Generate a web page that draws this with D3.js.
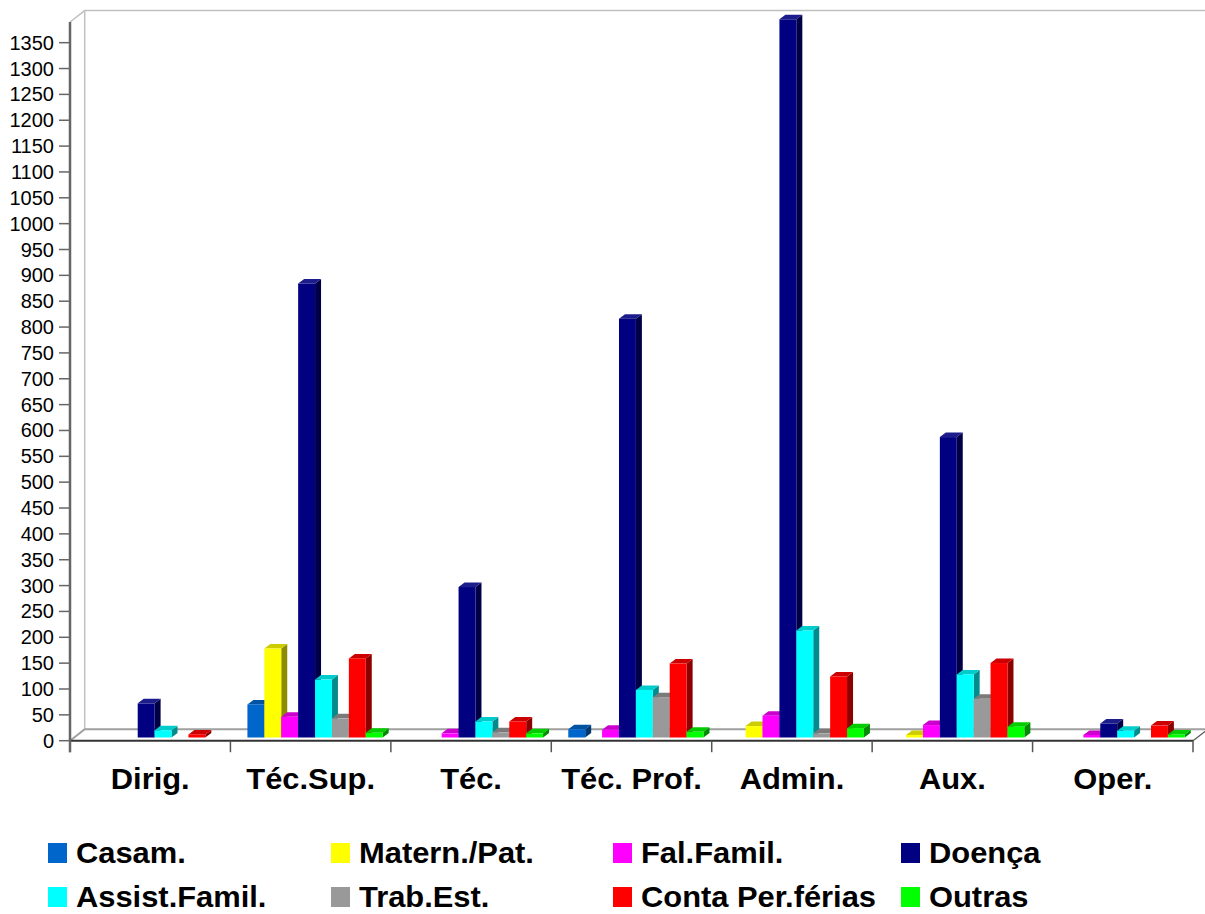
<!DOCTYPE html>
<html>
<head>
<meta charset="utf-8">
<script src="https://cdn.jsdelivr.net/npm/d3@7/dist/d3.min.js"></script>
<style>
  html, body { margin: 0; padding: 0; background: #fff; }
  svg { display: block; font-family: "Liberation Sans", Arial, sans-serif; }
</style>
</head>
<body>
<svg id="chart" width="1205" height="914"></svg>
<script>
// Absence categories by staff group
const categories = ["Dirig.", "Téc.Sup.", "Téc.", "Téc. Prof.", "Admin.", "Aux.", "Oper."];
const seriesNames = ["Casam.", "Matern./Pat.", "Fal.Famil.", "Doença", "Assist.Famil.", "Trab.Est.", "Conta Per.férias", "Outras"];
const seriesColors = ["#0066cc", "#ffff00", "#ff00ff", "#000080", "#00ffff", "#999999", "#ff0000", "#00ff00"];

const casam   = [0, 64, 0, 16, 0, 0, 0];
const matern  = [0, 172, 0, 0, 22, 5, 0];
const falFam  = [0, 40, 8, 15, 42, 24, 5];
const doenca  = [66, 878, 291, 810, 1389, 581, 27];
const assist  = [14, 112, 31, 92, 207, 122, 13];
const trabEst = [0, 37, 10, 78, 8, 75, 0];
const conta   = [6, 153, 31, 143, 118, 144, 23];
const outras  = [0, 9, 8, 11, 18, 21, 6];

const seriesValues = [casam, matern, falFam, doenca, assist, trabEst, conta, outras];
const yTicks = d3.range(0, 1351, 50);

const svg = d3.select("#chart");

// Plot geometry (front plane) and 3D depth offsets
const left = 70, right = 1193, y0 = 740.7, yTop = 22;
const wallDx = 14.7, wallDy = -11.4;     // floor / wall depth
const barShiftX = 4, barShiftY = -3.2;   // bar front plane offset
const barDx = 6, barDy = -4.5;           // bar depth
const textStretch = 1.065;               // slightly wide bold labels

const y = d3.scaleLinear().domain([0, 1390]).range([y0, yTop]);
const x0 = d3.scaleBand().domain(categories).range([left, right]).padding(0);
const bw = x0.bandwidth();
const x1 = d3.scaleBand().domain(seriesNames).range([bw * 0.081, bw * 0.924]).padding(0);

// Back wall and floor
const wall = svg.append("g");
wall.append("path")
  .attr("d", `M${left},${yTop} L${left + wallDx},${yTop + wallDy} L1205,${yTop + wallDy}`)
  .attr("fill", "none").attr("stroke", "#c0c0c0").attr("stroke-width", 1.5);
wall.append("line")
  .attr("x1", left + wallDx).attr("x2", left + wallDx)
  .attr("y1", yTop + wallDy).attr("y2", y0 + wallDy)
  .attr("stroke", "#c0c0c0").attr("stroke-width", 1.5);
wall.append("path")
  .attr("d", `M${left},${y0} L${left + wallDx},${y0 + wallDy} L1205,${y0 + wallDy}`)
  .attr("fill", "none").attr("stroke", "#a0a0a0").attr("stroke-width", 2);
wall.append("line")
  .attr("x1", right).attr("y1", y0).attr("x2", right + wallDx).attr("y2", y0 + wallDy)
  .attr("stroke", "#555").attr("stroke-width", 1.2);

// Bars
const shade = (c, k) => { const r = d3.rgb(c); return d3.rgb(r.r * k, r.g * k, r.b * k).toString(); };
const bars = svg.append("g");
categories.forEach((cat, ci) => {
  seriesNames.forEach((s, si) => {
    const v = seriesValues[si][ci];
    if (!v) return;
    const col = seriesColors[si];
    const xl = x0(cat) + x1(s) + barShiftX;
    const xr = xl + x1.bandwidth();
    const yb = y(0) + barShiftY;
    const yt = y(v) + barShiftY;
    const g = bars.append("g");
    // right side
    g.append("path")
      .attr("d", `M${xr},${yb} L${xr + barDx},${yb + barDy} L${xr + barDx},${yt + barDy} L${xr},${yt} Z`)
      .attr("fill", shade(col, 0.55));
    // top
    g.append("path")
      .attr("d", `M${xl},${yt} L${xl + barDx},${yt + barDy} L${xr + barDx},${yt + barDy} L${xr},${yt} Z`)
      .attr("fill", si === 3 ? "#1c1c8c" : shade(col, 0.8));
    // front
    g.append("rect")
      .attr("x", xl).attr("y", yt)
      .attr("width", x1.bandwidth()).attr("height", yb - yt)
      .attr("fill", col);
  });
});

// Front floor edge and category ticks
const axisX = svg.append("g");
axisX.append("line")
  .attr("x1", left).attr("x2", right).attr("y1", y0).attr("y2", y0)
  .attr("stroke", "#333").attr("stroke-width", 2);
const bounds = categories.map(c => x0(c)).concat([right]);
axisX.selectAll("line.tick").data(bounds).join("line")
  .attr("class", "tick")
  .attr("x1", d => d).attr("x2", d => d)
  .attr("y1", y0).attr("y2", y0 + 11.5)
  .attr("stroke", "#555").attr("stroke-width", 1.5);
axisX.selectAll("text").data(categories).join("text")
  .attr("transform", d => `translate(${x0(d) + bw / 2},789) scale(${textStretch},1)`)
  .attr("text-anchor", "middle")
  .attr("font-size", 29).attr("font-weight", "bold")
  .attr("fill", "#000")
  .text(d => d);

// Value axis
const axisY = svg.append("g");
axisY.append("line")
  .attr("x1", left).attr("x2", left).attr("y1", yTop).attr("y2", y0 + 11.5)
  .attr("stroke", "#666").attr("stroke-width", 2.5);
axisY.selectAll("line.tick").data(yTicks).join("line")
  .attr("class", "tick")
  .attr("x1", left - 11).attr("x2", left)
  .attr("y1", d => y(d)).attr("y2", d => y(d))
  .attr("stroke", "#666").attr("stroke-width", 1.5);
axisY.selectAll("text").data(yTicks).join("text")
  .attr("x", 54).attr("y", d => y(d) + 7)
  .attr("text-anchor", "end")
  .attr("font-size", 20)
  .attr("fill", "#000")
  .text(d => d);

// Legend
const legendX = [48, 331, 613, 901];
const legendY = [853, 897];
const legend = svg.append("g");
seriesNames.forEach((s, i) => {
  const lx = legendX[i % 4], ly = legendY[Math.floor(i / 4)];
  legend.append("rect")
    .attr("x", lx).attr("y", ly - 10).attr("width", 19).attr("height", 20)
    .attr("fill", seriesColors[i]);
  legend.append("text")
    .attr("transform", `translate(${lx + 28},${ly + 10}) scale(${textStretch},1)`)
    .attr("font-size", 29).attr("font-weight", "bold")
    .attr("fill", "#000")
    .text(s);
});
</script>
</body>
</html>
